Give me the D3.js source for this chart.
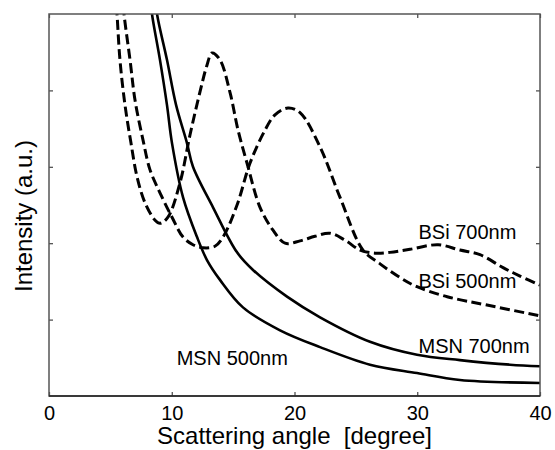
<!DOCTYPE html>
<html>
<head>
<meta charset="utf-8">
<script src="https://cdn.jsdelivr.net/npm/d3@7"></script>
<style>
  body { margin: 0; background: #fff; }
  text { font-family: Arial, "Liberation Sans", sans-serif; fill: #000; }
</style>
</head>
<body>
<div class="chart"></div>
<script>
// scattering angle [degree], intensity (a.u.)
var bsi700 = [
  [5.4, 5.3], [5.54, 5.0], [5.78, 4.40], [6.19, 3.81], [6.68, 3.31], [7.17, 2.87],
  [7.82, 2.53], [8.64, 2.30], [9.04, 2.26], [9.69, 2.34], [10.67, 2.79], [11.49, 3.42],
  [12.30, 3.98], [12.87, 4.33], [13.28, 4.49], [13.93, 4.40], [14.75, 3.97], [15.40, 3.48],
  [16.13, 3.05], [17.19, 2.47], [18.25, 2.17], [19.23, 2.00], [20.45, 2.03], [21.67, 2.09],
  [22.89, 2.13], [24.11, 2.04], [25.34, 1.91], [26.56, 1.87], [27.78, 1.88], [29.41, 1.92],
  [31.70, 1.98], [33.48, 1.91], [35.11, 1.85], [36.99, 1.68], [38.37, 1.57], [40.0, 1.45]
];
var bsi500 = [
  [5.95, 5.3], [6.11, 5.0], [6.60, 4.40], [7.01, 3.87], [7.66, 3.35], [8.23, 2.96],
  [9.04, 2.66], [10.02, 2.34], [10.92, 2.08], [11.73, 1.98], [12.55, 1.94], [13.52, 1.96],
  [14.18, 2.08], [15.32, 2.50], [16.38, 3.05], [17.60, 3.48], [18.41, 3.68], [19.47, 3.77],
  [20.45, 3.71], [22.08, 3.26], [23.71, 2.60], [25.58, 1.91], [26.97, 1.73], [28.60, 1.55],
  [29.98, 1.43], [32.44, 1.30], [35.68, 1.19], [40.0, 1.05]
];
var msn500 = [
  [8.2, 5.3], [8.39, 5.0], [9.04, 4.40], [9.61, 3.81], [10.02, 3.31], [10.92, 2.60],
  [12.06, 2.08], [12.87, 1.78], [13.93, 1.52], [15.80, 1.16], [18.82, 0.86], [22.08, 0.64],
  [26.15, 0.41], [29.98, 0.30], [33.48, 0.21], [40.0, 0.17]
];
var msn700 = [
  [8.6, 5.3], [8.80, 5.0], [9.61, 4.40], [10.35, 3.81], [11.24, 3.31], [11.73, 3.0],
  [13.36, 2.47], [15.32, 1.88], [16.62, 1.65], [19.39, 1.30], [22.08, 1.03], [26.15, 0.71],
  [29.98, 0.54], [33.48, 0.47], [37.56, 0.41], [40.0, 0.39]
];
var xTicks = [0, 10, 20, 30, 40];
var yTicks = [1, 2, 3, 4];
var labels = [
  { text: "BSi 700nm", x: 30.1, y: 2.05 },
  { text: "BSi 500nm", x: 30.1, y: 1.42 },
  { text: "MSN 700nm", x: 30.1, y: 0.56 },
  { text: "MSN 500nm", x: 10.4, y: 0.41 }
];

var margin = {top: 14, right: 15, bottom: 54, left: 49},
    width = 555 - margin.left - margin.right,
    height = 450 - margin.top - margin.bottom;

var x = d3.scaleLinear().domain([0, 40]).range([0, width]);
var y = d3.scaleLinear().domain([0, 5]).range([height, 0]);

var svg = d3.select(".chart").append("svg")
    .attr("width", 555)
    .attr("height", 450)
  .append("g")
    .attr("transform", "translate(" + margin.left + "," + margin.top + ")");

svg.append("clipPath").attr("id", "clip")
  .append("rect").attr("width", width).attr("height", height);

var line = d3.line()
    .x(function(d) { return x(d[0]); })
    .y(function(d) { return y(d[1]); })
    .curve(d3.curveCatmullRom.alpha(0.5));

var series = [
  { data: bsi700, dash: "10,4.5" },
  { data: bsi500, dash: "10,4.5" },
  { data: msn500, dash: null },
  { data: msn700, dash: null }
];

svg.append("g").attr("clip-path", "url(#clip)")
  .selectAll("path")
  .data(series)
  .enter().append("path")
    .attr("d", function(d) { return line(d.data); })
    .attr("fill", "none")
    .attr("stroke", "#000")
    .attr("stroke-width", function(d) { return d.dash ? 3 : 2.6; })
    .attr("stroke-dasharray", function(d) { return d.dash; });

// axes, ticks pointing inward
function styleAxis(g) {
  g.select(".domain").remove();
  g.selectAll(".tick line").attr("stroke", "#444").attr("stroke-width", 1.2);
  g.selectAll(".tick text").style("font-size", "20px");
}

svg.append("g")
    .attr("transform", "translate(0," + height + ")")
    .call(d3.axisBottom(x).tickValues(xTicks).tickSizeInner(-4).tickSizeOuter(0).tickPadding(10))
    .call(styleAxis);
svg.append("g")
    .call(d3.axisTop(x).tickValues(xTicks).tickSizeInner(-4).tickSizeOuter(0).tickFormat(""))
    .call(styleAxis);
svg.append("g")
    .call(d3.axisLeft(y).tickValues(yTicks).tickSizeInner(-4).tickSizeOuter(0).tickFormat(""))
    .call(styleAxis);
svg.append("g")
    .attr("transform", "translate(" + width + ",0)")
    .call(d3.axisRight(y).tickValues(yTicks).tickSizeInner(-4).tickSizeOuter(0).tickFormat(""))
    .call(styleAxis);

svg.append("rect")
    .attr("width", width)
    .attr("height", height)
    .attr("fill", "none")
    .attr("stroke", "#555")
    .attr("stroke-width", 1.5);
svg.append("line")
    .attr("x1", 0).attr("x2", width)
    .attr("y1", height).attr("y2", height)
    .attr("stroke", "#222")
    .attr("stroke-width", 1.5);

svg.selectAll(".lbl")
  .data(labels)
  .enter().append("text")
    .attr("class", "lbl")
    .attr("x", function(d) { return x(d.x); })
    .attr("y", function(d) { return y(d.y); })
    .style("font-size", "20px")
    .text(function(d) { return d.text; });

svg.append("text")
    .attr("x", width / 2)
    .attr("y", height + 48)
    .attr("text-anchor", "middle")
    .style("font-size", "24px")
    .style("white-space", "pre")
    .text("Scattering angle  [degree]");

svg.append("text")
    .attr("transform", "translate(-17," + (height / 2 + 11) + ") rotate(-90)")
    .attr("text-anchor", "middle")
    .style("font-size", "24px")
    .text("Intensity (a.u.)");
</script>
</body>
</html>
